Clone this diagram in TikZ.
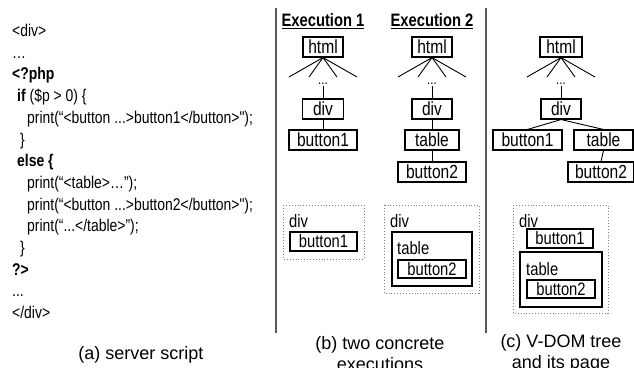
\documentclass[tikz,border=0pt]{standalone}
\usepackage{fontspec}
\setmainfont{Liberation Sans}
\newfontfamily\narrow[FakeStretch=0.82]{Liberation Sans}
\begin{document}
\begin{tikzpicture}[x=1bp,y=-1bp,
  code/.style={anchor=base west, inner sep=0pt, font=\narrow\fontsize{17bp}{20bp}\selectfont},
  tbox/.style={draw, line width=1.1bp, inner sep=0pt, minimum height=20bp, font=\narrow\fontsize{19bp}{22bp}\selectfont},
  pbox/.style={draw, line width=1.1bp, inner sep=0pt, font=\narrow\fontsize{18bp}{21bp}\selectfont},
  plabel/.style={anchor=west, inner sep=0pt, font=\narrow\fontsize{18bp}{21bp}\selectfont},
  tline/.style={line width=0.9bp},
  dotsnode/.style={inner sep=1bp, font=\narrow\fontsize{14bp}{16bp}\selectfont},
  titlenode/.style={inner sep=0pt, font=\narrow\bfseries\fontsize{18bp}{21bp}\selectfont},
  dotbox/.style={draw=gray, line width=0.9bp, dotted},
  solidbox/.style={draw, line width=1.1bp},
  sepline/.style={draw=black!65, line width=1.5bp},
  capnode/.style={inner sep=0pt, align=center, font=\fontsize{18bp}{21bp}\selectfont}
]
\useasboundingbox (0,0) rectangle (634,367);

% ---------- (a) server script ----------
\node[code] (c1) at (12,36) {<div>};
\node[code] (c2) at (12,58) {…};
\node[code] (c3) at (12,79) {\bfseries <?php};
\node[code] (c4) at (17,101) {\textbf{if} (\$p > 0) \{};
\node[code] (c5) at (27,123) {print(“<button ...>button1</button>");};
\node[code] (c6) at (20,145) {\}};
\node[code] (c7) at (17,166) {\textbf{else \{}};
\node[code] (c8) at (27,188) {print(“<table>…”);};
\node[code] (c9) at (27,210) {print(“<button ...>button2</button>");};
\node[code] (c10) at (27,231) {print(“...</table>”);};
\node[code] (c11) at (20,253) {\}};
\node[code] (c12) at (12,275) {\textbf{?>}};
\node[code] (c13) at (12,296) {...};
\node[code] (c14) at (12,318) {</div>};
\node[capnode] (ca) at (141,355) {(a) server script};

% ---------- separators ----------
\draw[sepline] (276,8) -- (276,333);
\draw[sepline] (486,8) -- (486,333);

% ---------- Execution 1 ----------
\node[titlenode] (t1) at (323,21) {\underline{Execution 1}};
\node[tbox, minimum width=40bp] (h1) at (323,47) {html};
\coordinate (l11) at (289,77);
\coordinate (l12) at (309,77);
\coordinate (l13) at (337,77);
\coordinate (l14) at (357,77);
\foreach \c in {l11,l12,l13,l14} \draw[tline] (h1.south) -- (\c);
\node[dotsnode] (e1) at (323,84) {...};
\node[tbox, minimum width=41bp] (d1) at (323,109) {div};
\node[tbox, minimum width=68bp] (b1) at (323,140) {button1};
\draw[tline] (e1.south) -- (d1.north);
\draw[tline] (d1.south) -- (b1.north);

% ---------- Execution 2 ----------
\node[titlenode] (t2) at (432,21) {\underline{Execution 2}};
\node[tbox, minimum width=40bp] (h2) at (432,47) {html};
\coordinate (l21) at (398,77);
\coordinate (l22) at (418,77);
\coordinate (l23) at (446,77);
\coordinate (l24) at (466,77);
\foreach \c in {l21,l22,l23,l24} \draw[tline] (h2.south) -- (\c);
\node[dotsnode] (e2) at (432,84) {...};
\node[tbox, minimum width=40bp] (d2) at (432,109) {div};
\node[tbox, minimum width=54bp] (tb2) at (432,140) {table};
\node[tbox, minimum width=68bp] (bt2) at (432,172) {button2};
\draw[tline] (e2.south) -- (d2.north);
\draw[tline] (d2.south) -- (tb2.north);
\draw[tline] (tb2.south) -- (bt2.north);

% ---------- V-DOM tree ----------
\node[tbox, minimum width=42bp] (h3) at (561,47) {html};
\coordinate (l31) at (527,77);
\coordinate (l32) at (547,77);
\coordinate (l33) at (575,77);
\coordinate (l34) at (595,77);
\foreach \c in {l31,l32,l33,l34} \draw[tline] (h3.south) -- (\c);
\node[dotsnode] (e3) at (561,84) {...};
\node[tbox, minimum width=40bp] (d3) at (561,109) {div};
\node[tbox, minimum width=69bp] (b3) at (527.5,140) {button1};
\node[tbox, minimum width=59bp] (tb3) at (603.5,140) {table};
\node[tbox, minimum width=66bp] (bt3) at (601,172) {button2};
\draw[tline] (e3.south) -- (d3.north);
\draw[tline] (d3.south) -- (b3.north);
\draw[tline] (d3.south) -- (tb3.north);
\draw[tline] (tb3.south) -- (bt3.north);

% ---------- pages ----------
\draw[dotbox] (283,205) rectangle (364,259);
\node[plabel] (pd1) at (289,221) {div};
\node[pbox, minimum width=67bp, minimum height=19bp] (pb1) at (323.5,241.5) {button1};

\draw[dotbox] (384,205) rectangle (479,293);
\node[plabel] (pd2) at (390,221) {div};
\draw[solidbox] (392,232) rectangle (472,286);
\node[plabel] (pt2) at (397,248) {table};
\node[pbox, minimum width=68bp, minimum height=18bp] (pb2) at (432,269) {button2};

\draw[dotbox] (513,205) rectangle (608,313);
\node[plabel] (pd3) at (519,221) {div};
\node[pbox, minimum width=66bp, minimum height=19bp] (pb3) at (560,238.5) {button1};
\draw[solidbox] (520,252) rectangle (602,307);
\node[plabel] (pt3) at (526,269) {table};
\node[pbox, minimum width=68bp, minimum height=18bp] (pb4) at (561,289) {button2};

% ---------- captions ----------
\node[capnode] (cb) at (380,353.5) {(b) two concrete\\executions};
\node[capnode] (cc) at (561,353.5) {(c) V-DOM tree\\and its page};
\end{tikzpicture}
\end{document}
